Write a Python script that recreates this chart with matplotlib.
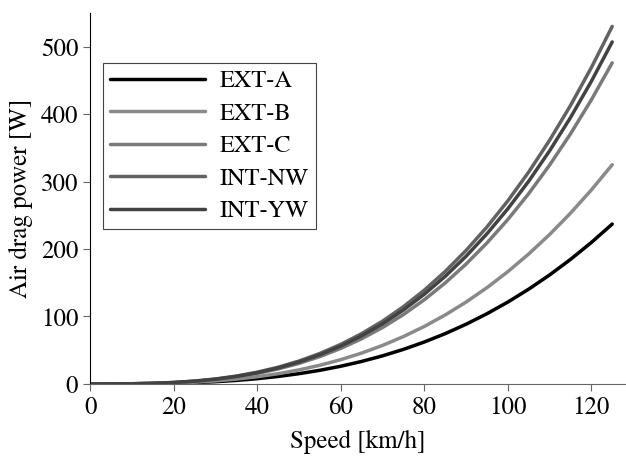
import numpy as np
import matplotlib
matplotlib.use('Agg')
import matplotlib.pyplot as plt

plt.rcParams['font.family'] = ['TeX Gyre Termes', 'STIX Two Text', 'DejaVu Serif']
plt.rcParams['font.size'] = 18

speed = [0, 5, 10, 15, 20, 25, 30, 35, 40, 45, 50, 55, 60, 65, 70, 75, 80,
         85, 90, 95, 100, 105, 110, 115, 120, 125]

ext_a = [0, 0.02, 0.12, 0.41, 0.97, 1.9, 3.28, 5.2, 7.77, 11.06, 15.17, 20.19,
         26.21, 33.32, 41.62, 51.19, 62.13, 74.52, 88.46, 104.04, 121.34,
         140.47, 161.51, 184.55, 209.68, 237]
ext_b = [0, 0.02, 0.17, 0.56, 1.33, 2.6, 4.49, 7.13, 10.65, 15.16, 20.8, 27.68,
         35.94, 45.7, 57.08, 70.2, 85.2, 102.19, 121.31, 142.67, 166.4,
         192.63, 221.48, 253.07, 287.54, 325]
ext_c = [0, 0.03, 0.24, 0.82, 1.95, 3.81, 6.58, 10.45, 15.6, 22.21, 30.46,
         40.55, 52.64, 66.93, 83.59, 102.82, 124.78, 149.67, 177.67, 208.95,
         243.71, 282.13, 324.38, 370.66, 421.13, 476]
int_nw = [0, 0.03, 0.27, 0.92, 2.17, 4.24, 7.33, 11.63, 17.37, 24.73, 33.92,
          45.15, 58.61, 74.52, 93.08, 114.48, 138.94, 166.65, 197.82, 232.66,
          271.36, 314.13, 361.18, 412.7, 468.91, 530]
int_yw = [0, 0.03, 0.26, 0.88, 2.08, 4.06, 7.01, 11.13, 16.61, 23.65, 32.45,
          43.19, 56.07, 71.29, 89.04, 109.51, 132.91, 159.42, 189.24, 222.56,
          259.58, 300.5, 345.51, 394.79, 448.56, 507]

labels = ['EXT-A', 'EXT-B', 'EXT-C', 'INT-NW', 'INT-YW']
series = [ext_a, ext_b, ext_c, int_nw, int_yw]
colors = ['#000000', '#8a8a8a', '#7a7a7a', '#626262', '#424242']

fig = plt.figure(figsize=(6.26, 4.62), dpi=100)
ax = fig.add_axes([0.144, 0.169, 0.854, 0.803])

for y, lab, c in zip(series, labels, colors):
    ax.plot(speed, y, color=c, lw=2.5, label=lab, solid_capstyle='round')

ax.set_xlim(0, 128)
ax.set_ylim(0, 550)
ax.set_xticks([0, 20, 40, 60, 80, 100, 120])
ax.set_yticks([0, 100, 200, 300, 400, 500])
ax.spines['top'].set_visible(False)
ax.spines['right'].set_visible(False)
ax.spines['bottom'].set_color('#666666')
ax.tick_params(direction='out', length=5, color='#666666')
ax.set_xlabel('Speed [km/h]', labelpad=7)
ax.set_ylabel('Air drag power [W]', labelpad=6)

leg = ax.legend(loc='upper left', bbox_to_anchor=(0.024, 0.865), borderaxespad=0,
                fancybox=False, edgecolor='#444444', fontsize=17.5,
                handlelength=3.9, handletextpad=0.6, borderpad=0.3,
                labelspacing=0.43, framealpha=1)
leg.get_frame().set_linewidth(0.8)

fig.savefig('out.png', dpi=100)
